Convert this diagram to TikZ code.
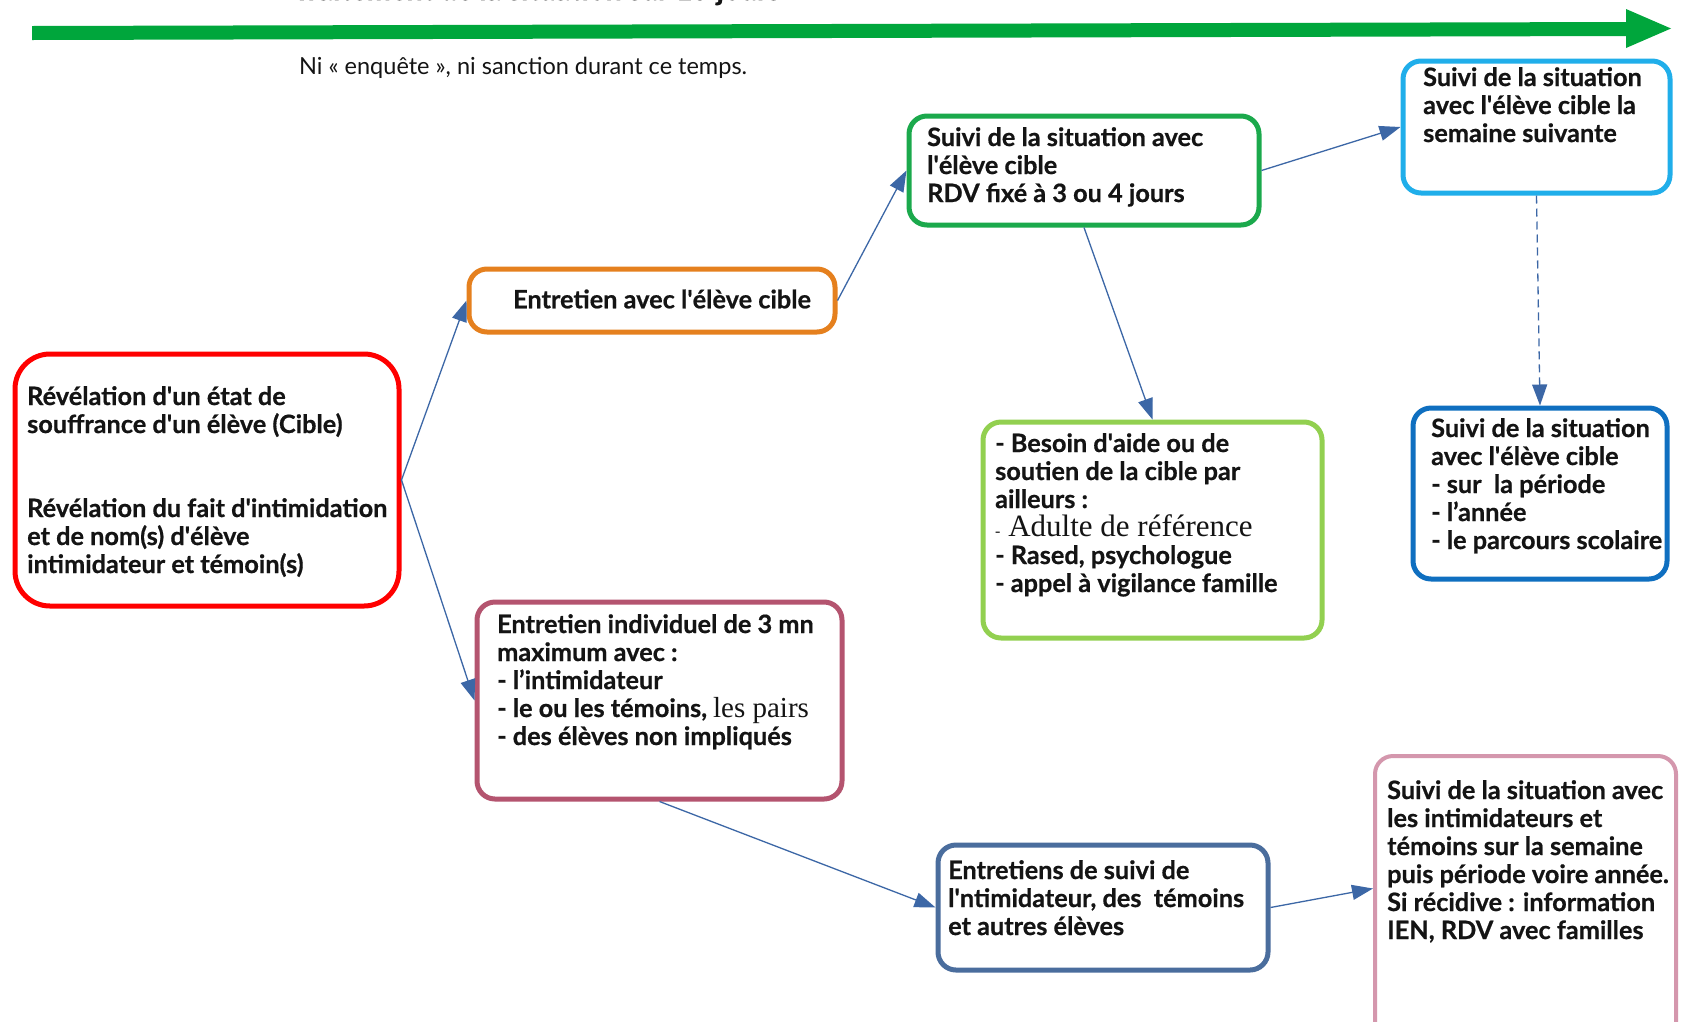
\documentclass[tikz,border=0pt]{standalone}
\usepackage{fontspec}
\setmainfont{Lato}[BoldFeatures={FakeBold=0.6}]
\newfontfamily\serifa{Liberation Serif}
\usetikzlibrary{arrows.meta,calc}
\definecolor{topgreen}{HTML}{00A63C}
\definecolor{cred}{HTML}{FF0000}
\definecolor{corange}{HTML}{E5801E}
\definecolor{cgreen}{HTML}{1BA94C}
\definecolor{ccyan}{HTML}{20AEEA}
\definecolor{clgreen}{HTML}{92D050}
\definecolor{cblue}{HTML}{0F6FC0}
\definecolor{cmauve}{HTML}{B4546F}
\definecolor{csteel}{HTML}{4A6D9D}
\definecolor{cpink}{HTML}{D497AD}
\definecolor{connc}{HTML}{3C67A6}
\definecolor{textc}{HTML}{141414}
\newcommand{\apo}{\textquotesingle}
\begin{document}
\begin{tikzpicture}[x=1pt,y=-1pt,
  box/.style={draw=#1, line width=5pt, rounded corners=18pt, inner sep=0pt, fill=white},
  txt/.style={inner sep=0pt, align=left, anchor=north west, text=textc,
    font=\fontsize{25.3}{28}\selectfont\bfseries},
  conn/.style={draw=connc, line width=1.3pt, -{Triangle[length=21pt,width=15pt]}}]
\useasboundingbox (0,0) rectangle (1681,1021);
\fill[white] (0,0) rectangle (1681,1021);

% timeline
\node[inner sep=0pt, anchor=base west, text=textc, font=\fontsize{29}{32}\selectfont\bfseries] (title) at (293,0) {Traitement de la situation sur 15 jours};
\fill[topgreen] (32,26) -- (1628,22) -- (1628,36) -- (32,40) -- cycle;
\fill[topgreen] (1626,9) -- (1671,28.5) -- (1626,48) -- cycle;
\node[inner sep=0pt, anchor=west, text=textc, font=\fontsize{23.5}{26}\selectfont] (note) at (299,68) {Ni « enquête », ni sanction durant ce temps.};

% boxes
\node[box=cred, rounded corners=35pt, minimum width=384pt, minimum height=252pt] (red) at (207,480) {};
\node[box=corange, minimum width=366pt, minimum height=63pt] (orange) at (652,300.5) {};
\node[box=cgreen, minimum width=350pt, minimum height=109pt] (green) at (1084,170.5) {};
\node[box=ccyan, minimum width=267pt, minimum height=132pt] (cyan) at (1536.5,127) {};
\node[box=clgreen, minimum width=339pt, minimum height=216pt] (lgreen) at (1152.5,530) {};
\node[box=cblue, minimum width=254pt, minimum height=171pt] (blue) at (1540,493.5) {};
\node[box=cmauve, minimum width=365pt, minimum height=197pt] (mauve) at (659.5,700.5) {};
\node[box=csteel, minimum width=330pt, minimum height=125pt] (steel) at (1103,907.5) {};
\node[box=cpink, line width=4pt, minimum width=301pt, minimum height=289pt] (pink) at (1525.5,900.5) {};

% texts
\node[txt] (redT) at (27,386) {Révélation d\apo un état de\\souffrance d\apo un élève (Cible)\\[56pt]Révélation du fait d\apo intimidation\\et de nom(s) d\apo élève\\intimidateur et témoin(s)};
\node[txt, anchor=west] (orangeT) at (513,299) {Entretien avec l\apo élève cible};
\node[txt] (greenT) at (927,127) {Suivi de la situation avec\\l\apo élève cible\\RDV fixé à 3 ou 4 jours};
\node[txt] (cyanT) at (1423,67) {Suivi de la situation\\avec l\apo élève cible la\\semaine suivante};
\node[txt] (lgreenT) at (995,433) {- Besoin d\apo aide ou de\\soutien de la cible par\\ailleurs :\\{\serifa\mdseries\fontsize{31}{28}\selectfont{\fontsize{16}{28}\selectfont-} Adulte de référence}\\- Rased, psychologue\\- appel à vigilance famille};
\node[txt] (blueT) at (1431,418) {Suivi de la situation\\avec l\apo élève cible\\- sur\ \ la période\\- l’année\\- le parcours scolaire};
\node[txt] (mauveT) at (497,614) {Entretien individuel de 3 mn\\maximum avec :\\- l’intimidateur\\- le ou les témoins, {\serifa\mdseries\fontsize{29}{28}\selectfont les pairs}\\- des élèves non impliqués};
\node[txt] (steelT) at (948,860) {Entretiens de suivi de\\l\apo ntimidateur, des\ \ témoins\\et autres élèves};
\node[txt] (pinkT) at (1387,780) {Suivi de la situation avec\\les intimidateurs et\\témoins sur la semaine\\puis période voire année.\\Si récidive : information\\IEN, RDV avec familles};

% connectors
\draw[conn] (red.east) -- (orange.west);
\draw[conn] (red.east) -- (mauve.west);
\draw[conn] (orange.east) -- (green.west);
\draw[conn] (green.east) -- (cyan.west);
\draw[conn] (green.south) -- (lgreen.north);
\draw[conn, dash pattern=on 8pt off 5pt] (cyan.south) -- (blue.north);
\draw[conn] (mauve.south) -- (steel.west);
\draw[conn] (steel.east) -- ([yshift=12pt]pink.west);
\end{tikzpicture}
\end{document}
